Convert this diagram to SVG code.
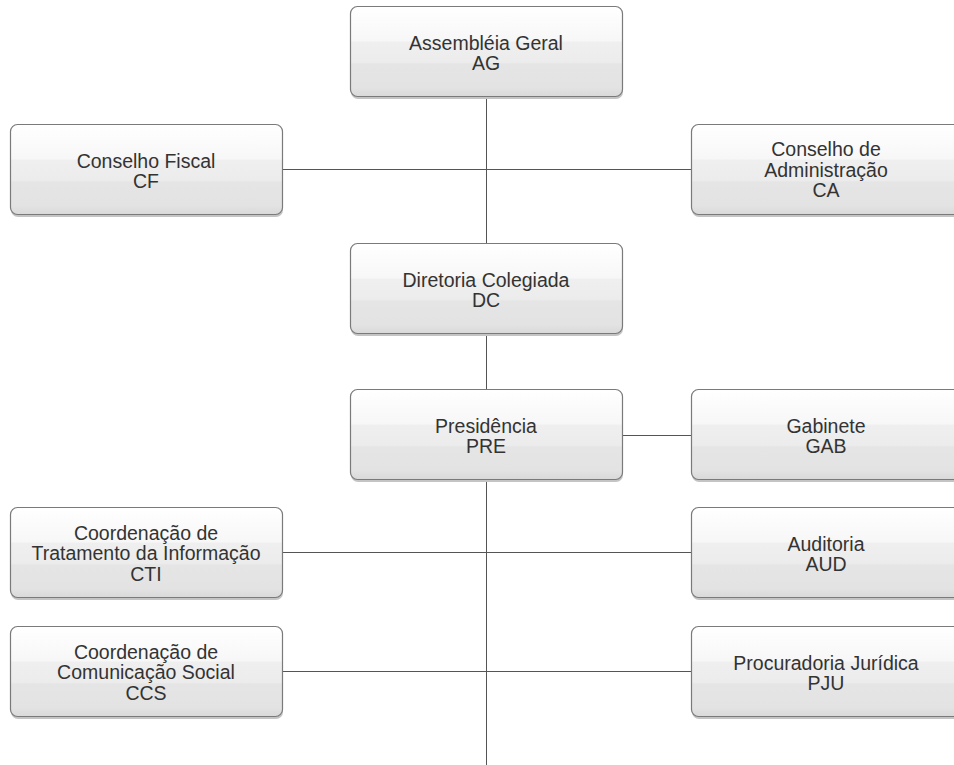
<svg xmlns="http://www.w3.org/2000/svg" width="954" height="765" viewBox="0 0 954 765">
<defs>
<linearGradient id="g" x1="0" y1="0" x2="0" y2="1">
<stop offset="0" stop-color="#ffffff"/>
<stop offset="0.38" stop-color="#f7f7f7"/>
<stop offset="0.40" stop-color="#efefef"/>
<stop offset="0.62" stop-color="#ececec"/>
<stop offset="0.64" stop-color="#e5e5e5"/>
<stop offset="0.9" stop-color="#e3e3e3"/>
<stop offset="1" stop-color="#d9d9d9"/>
</linearGradient>
<style>
.box{fill:url(#g);stroke:#7a7a7a;stroke-width:1.2}
.sh{fill:#c4c4c4}
.t{font-family:"Liberation Sans",Arial,sans-serif;font-size:19.5px;fill:#333;text-anchor:middle}
.c{stroke:#555;stroke-width:1;fill:none}
</style>
</defs>
<rect width="954" height="765" fill="#ffffff"/>
<g id="connectors">
<line class="c" x1="486.5" y1="97" x2="486.5" y2="765"/>
<line class="c" x1="282" y1="169.5" x2="691" y2="169.5"/>
<line class="c" x1="622" y1="435.5" x2="691" y2="435.5"/>
<line class="c" x1="282" y1="552.5" x2="691" y2="552.5"/>
<line class="c" x1="282" y1="671.5" x2="691" y2="671.5"/>
</g>
<g id="AG">
<rect class="sh" x="351" y="8" width="272" height="91" rx="7"/>
<rect class="box" x="350.5" y="6.5" width="272" height="90" rx="7"/>
<text class="t" x="486" y="49.5">Assembléia Geral</text>
<text class="t" x="486" y="70">AG</text>
</g>
<g id="CF">
<rect class="sh" x="11" y="126" width="272" height="91" rx="7"/>
<rect class="box" x="10.5" y="124.5" width="272" height="90" rx="7"/>
<text class="t" x="146" y="167.5">Conselho Fiscal</text>
<text class="t" x="146" y="188">CF</text>
</g>
<g id="CA">
<rect class="sh" x="692" y="126" width="272" height="91" rx="7"/>
<rect class="box" x="691.5" y="124.5" width="272" height="90" rx="7"/>
<text class="t" x="826" y="156">Conselho de</text>
<text class="t" x="826" y="176.5">Administração</text>
<text class="t" x="826" y="197">CA</text>
</g>
<g id="DC">
<rect class="sh" x="351" y="245" width="272" height="91" rx="7"/>
<rect class="box" x="350.5" y="243.5" width="272" height="90" rx="7"/>
<text class="t" x="486" y="286.5">Diretoria Colegiada</text>
<text class="t" x="486" y="307">DC</text>
</g>
<g id="PRE">
<rect class="sh" x="351" y="391" width="272" height="91" rx="7"/>
<rect class="box" x="350.5" y="389.5" width="272" height="90" rx="7"/>
<text class="t" x="486" y="432.5">Presidência</text>
<text class="t" x="486" y="453">PRE</text>
</g>
<g id="GAB">
<rect class="sh" x="692" y="391" width="272" height="91" rx="7"/>
<rect class="box" x="691.5" y="389.5" width="272" height="90" rx="7"/>
<text class="t" x="826" y="432.5">Gabinete</text>
<text class="t" x="826" y="453">GAB</text>
</g>
<g id="CTI">
<rect class="sh" x="11" y="509" width="272" height="91" rx="7"/>
<rect class="box" x="10.5" y="507.5" width="272" height="90" rx="7"/>
<text class="t" x="146" y="539.5">Coordenação de</text>
<text class="t" x="146" y="560">Tratamento da Informação</text>
<text class="t" x="146" y="580.5">CTI</text>
</g>
<g id="AUD">
<rect class="sh" x="692" y="509" width="272" height="91" rx="7"/>
<rect class="box" x="691.5" y="507.5" width="272" height="90" rx="7"/>
<text class="t" x="826" y="550.5">Auditoria</text>
<text class="t" x="826" y="571">AUD</text>
</g>
<g id="CCS">
<rect class="sh" x="11" y="628" width="272" height="91" rx="7"/>
<rect class="box" x="10.5" y="626.5" width="272" height="90" rx="7"/>
<text class="t" x="146" y="658.5">Coordenação de</text>
<text class="t" x="146" y="679">Comunicação Social</text>
<text class="t" x="146" y="699.5">CCS</text>
</g>
<g id="PJU">
<rect class="sh" x="692" y="628" width="272" height="91" rx="7"/>
<rect class="box" x="691.5" y="626.5" width="272" height="90" rx="7"/>
<text class="t" x="826" y="669.5">Procuradoria Jurídica</text>
<text class="t" x="826" y="690">PJU</text>
</g>
</svg>
